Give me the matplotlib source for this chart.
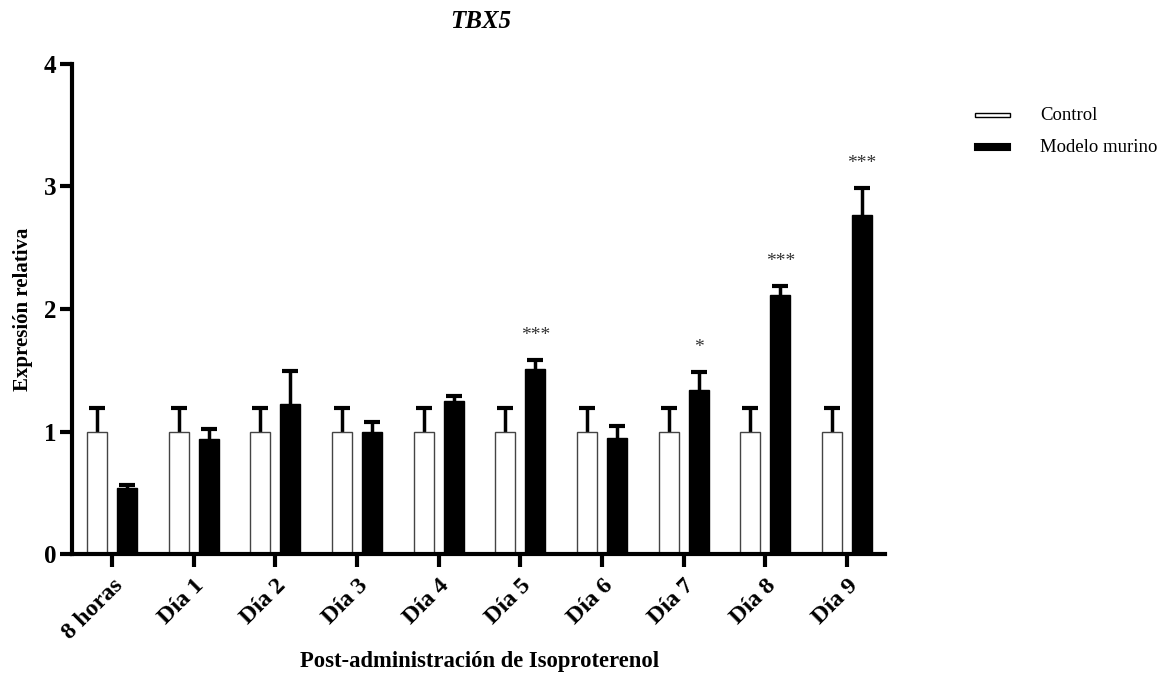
import matplotlib
matplotlib.use("Agg")
import matplotlib.pyplot as plt
import numpy as np
from matplotlib.patches import Rectangle

categories = ["8 horas", "Día 1", "Día 2", "Día 3", "Día 4", "Día 5", "Día 6", "Día 7", "Día 8", "Día 9"]
control = [1.0] * 10
control_err = [0.19] * 10
modelo = [0.535, 0.935, 1.225, 0.995, 1.25, 1.51, 0.948, 1.335, 2.117, 2.766]
modelo_err = [0.028, 0.085, 0.265, 0.085, 0.04, 0.075, 0.098, 0.15, 0.068, 0.224]
signif = ["", "", "", "", "", "***", "", "*", "***", "***"]

plt.rcParams['font.family'] = ['Liberation Serif', 'DejaVu Serif']

fig = plt.figure(figsize=(11.61, 6.79), dpi=100)
ax = fig.add_axes([0.062, 0.184, 0.700, 0.722])

x = np.arange(len(categories))
w = 0.245
off = 0.184

ax.bar(x - off, control, width=w, color='white', edgecolor='#444444', linewidth=1.0, zorder=2)
ax.bar(x + off, modelo, width=w, color='black', edgecolor='black', linewidth=1.0, zorder=2)

ctop = np.array(control) + np.array(control_err)
mtop = np.array(modelo) + np.array(modelo_err)
ax.vlines(x - off, control, ctop, colors='black', linewidth=2.5, zorder=1)
ax.vlines(x + off, modelo, mtop, colors='black', linewidth=2.5, zorder=1)
ax.plot(x - off, ctop, linestyle='none', marker='_', markersize=11, markeredgewidth=3, color='black', zorder=3)
ax.plot(x + off, mtop, linestyle='none', marker='_', markersize=11, markeredgewidth=3, color='black', zorder=3)

for xi, t, s in zip(x, mtop, signif):
    if s:
        ax.text(xi + off, t + 0.13, s, ha='center', va='bottom', fontsize=14, color='#333333')

ax.set_xlim(-0.49, 9.46)
ax.set_ylim(0, 4)
ax.set_yticks([0, 1, 2, 3, 4])
ax.set_yticklabels(['0', '1', '2', '3', '4'], fontsize=18, fontweight='bold')
ax.set_xticks(x)
ax.set_xticklabels(categories, rotation=45, ha='right', rotation_mode='anchor', fontsize=17.5, fontweight='bold')

for sp in ['top', 'right']:
    ax.spines[sp].set_visible(False)
for sp in ['left', 'bottom']:
    ax.spines[sp].set_linewidth(3)
ax.tick_params(axis='both', width=3, length=9, direction='out')
ax.tick_params(axis='y', pad=2)
ax.tick_params(axis='x', pad=6)

ax.set_ylabel('Expresión relativa', fontsize=15, fontweight='bold', labelpad=8)
W, H = fig.get_size_inches() * fig.dpi
fig.text(480 / W, 1 - 662 / H, 'Post-administración de Isoproterenol', ha='center', va='center',
         fontsize=16.3, fontweight='bold')
fig.text(0.414, 0.968, 'TBX5', ha='center', va='center', fontsize=18, fontweight='bold', style='italic')

# legend
fig.patches.append(Rectangle((975 / W, 1 - 117 / H), 35 / W, 4 / H, transform=fig.transFigure,
                             facecolor='white', edgecolor='black', linewidth=1.0))
fig.patches.append(Rectangle((975 / W, 1 - 150 / H), 35 / W, 6 / H, transform=fig.transFigure,
                             facecolor='black', edgecolor='black', linewidth=1.5))
fig.text(1040 / W, 1 - 116 / H, 'Control', ha='left', va='center', fontsize=13.5)
fig.text(1040 / W, 1 - 148 / H, 'Modelo murino', ha='left', va='center', fontsize=13.5)

fig.savefig('out.png', dpi=100)
